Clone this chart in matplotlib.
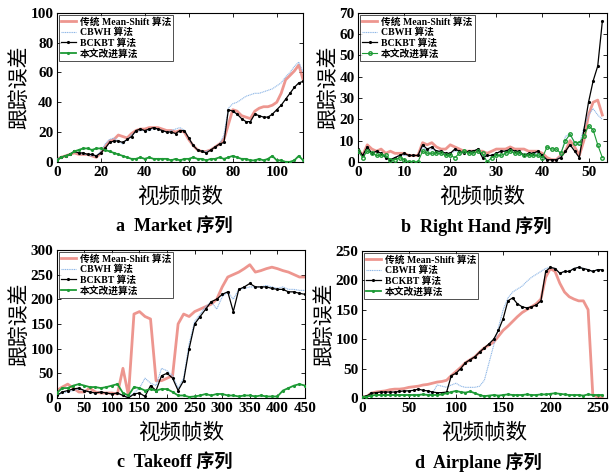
import numpy as np
import matplotlib.pyplot as plt

plt.rcParams['font.family'] = ['Liberation Serif', 'Noto Sans CJK SC']
plt.rcParams['font.weight'] = 'bold'

labels = ['传统 Mean-Shift 算法', 'CBWH 算法', 'BCKBT 算法', '本文改进算法']

# a: Market
market_x = list(range(0, 113, 2))
market_ms = [2, 3, 4, 5, 6, 5, 5, 5, 4, 3, 6, 10, 14, 15, 18, 17, 16, 19, 21, 22,
             22, 23, 23, 23, 22, 21, 21, 20, 21, 20, 15, 11, 8, 7, 7, 8, 10, 12, 15, 25,
             35, 34, 31, 30, 29, 34, 36, 37, 37, 38, 40, 46, 55, 58, 61, 65, 55]
market_cbwh = [2, 3, 4, 5, 7, 6, 5, 5, 4, 4, 7, 12, 15, 16, 14, 12, 15, 18, 20, 21,
               21, 21, 22, 22, 21, 20, 21, 22, 23, 21, 16, 11, 8, 7, 7, 8, 10, 12, 18, 36,
               39, 40, 42, 44, 45, 46, 46, 47, 48, 49, 51, 53, 57, 60, 64, 67, 60]
market_bckbt = [1, 3, 4, 5, 7, 6, 6, 5, 5, 4, 6, 9, 13, 14, 14, 13, 15, 17, 21, 22,
                21, 22, 23, 22, 21, 20, 20, 19, 21, 21, 16, 11, 8, 7, 6, 8, 10, 12, 13, 35,
                34, 32, 29, 27, 27, 32, 31, 30, 30, 32, 35, 38, 42, 46, 50, 53, 54]
market_ours = [1, 3, 4, 5, 7, 8, 9, 9, 8, 9, 9, 8, 7, 6, 5, 4, 3, 2, 2, 3,
               2, 3, 2, 2, 2, 2, 1, 2, 1, 2, 2, 3, 2, 2, 1, 2, 2, 3, 2, 3,
               4, 3, 2, 2, 1, 1, 2, 1, 2, 4, 1, 1, 0, 0, 1, 4, 1]

# b: Right Hand
hand_x = list(range(0, 54))
hand_ms = [6, 3, 8, 6, 5, 6, 4, 5, 4, 4, 4, 3, 3, 3, 9, 8, 9, 7, 6, 6,
           8, 7, 6, 5, 5, 5, 5, 5, 4, 5, 6, 6, 6, 7, 6, 6, 6, 5, 5, 5,
           4, 2, 1, 1, 3, 5, 10, 7, 3, 10, 22, 28, 29, 22]
hand_cbwh = [5, 3, 6, 4, 5, 4, 2, 1, 2, 3, 3, 3, 3, 3, 7, 5, 6, 5, 5, 4,
             4, 5, 5, 4, 5, 5, 6, 2, 3, 3, 4, 5, 5, 6, 5, 4, 3, 4, 4, 4,
             2, 1, 1, 1, 3, 12, 13, 9, 8, 16, 22, 25, 22, 20]
hand_bckbt = [6, 3, 7, 4, 5, 4, 2, 1, 2, 3, 4, 3, 3, 3, 8, 6, 7, 5, 5, 4,
              4, 6, 5, 4, 5, 5, 6, 2, 3, 3, 4, 5, 5, 6, 5, 5, 3, 4, 4, 5,
              3, 1, 1, 1, 2, 5, 8, 5, 2, 15, 28, 38, 45, 66]
hand_ours = [5, 2, 5, 4, 3, 3, 3, 1, 1, 2, 1, 0, 0, 0, 5, 4, 4, 4, 4, 3,
             3, 2, 4, 5, 4, 4, 5, 4, 0, 2, 3, 3, 4, 5, 4, 4, 3, 3, 3, 3,
             2, 7, 6, 6, 4, 10, 13, 9, 9, 12, 17, 15, 8, 2]

# c: Takeoff
takeoff_x = list(range(0, 451, 10))
takeoff_ms = [15, 22, 28, 20, 12, 12, 20, 12, 10, 10, 10, 8, 60, 5, 170, 175, 165, 160, 35, 35,
              40, 45, 150, 170, 165, 175, 180, 185, 190, 200, 225, 245, 250, 255, 262, 270, 255, 258, 262, 265,
              262, 258, 255, 250, 245, 245]
takeoff_cbwh = [5, 10, 12, 15, 18, 15, 12, 10, 12, 10, 8, 10, 5, 2, 10, 20, 40, 30, 25, 60,
                55, 45, 20, 40, 110, 155, 170, 185, 195, 180, 205, 215, 200, 220, 222, 225, 225, 225, 228, 225,
                222, 225, 220, 220, 218, 218]
takeoff_bckbt = [5, 12, 15, 18, 20, 15, 12, 10, 12, 10, 8, 10, 5, 0, 8, 10, 3, 25, 15, 45,
                 50, 40, 15, 35, 100, 150, 165, 180, 195, 200, 210, 215, 175, 220, 225, 232, 225, 225, 225, 222,
                 220, 220, 215, 215, 212, 210]
takeoff_ours = [10, 20, 20, 25, 28, 25, 22, 22, 20, 22, 25, 28, 10, 5, 22, 20, 15, 18, 15, 18,
                18, 12, 5, 5, 2, 3, 5, 8, 5, 8, 8, 5, 5, 3, 5, 5, 3, 5, 3, 3,
                3, 15, 20, 25, 28, 25]

# d: Airplane
plane_x = list(range(0, 256, 5))
plane_ms = [2, 2, 8, 10, 11, 12, 14, 15, 15, 16, 18, 19, 20, 22, 23, 25, 27, 28, 30, 38,
            45, 52, 60, 65, 70, 78, 85, 90, 95, 105, 115, 122, 130, 138, 145, 150, 155, 160, 168, 205,
            220, 215, 195, 180, 172, 168, 165, 165, 150, 5, 2, 2]
plane_cbwh = [2, 2, 4, 5, 5, 5, 5, 5, 5, 5, 5, 6, 6, 6, 6, 8, 22, 20, 18, 22,
              25, 20, 18, 18, 18, 20, 30, 60, 90, 120, 150, 170, 180, 185, 190, 198, 205, 210, 215, 220,
              222, 220, 212, 215, 215, 220, 222, 220, 218, 215, 218, 218]
plane_bckbt = [2, 3, 8, 9, 10, 10, 10, 10, 11, 12, 12, 13, 15, 13, 12, 10, 9, 9, 10, 38,
               42, 50, 60, 65, 70, 78, 85, 92, 100, 115, 135, 165, 170, 160, 155, 153, 155, 158, 165, 215,
               222, 220, 212, 215, 215, 220, 222, 220, 218, 215, 218, 218]
plane_ours = [2, 2, 4, 5, 5, 5, 5, 5, 5, 5, 5, 5, 5, 6, 5, 5, 5, 6, 8, 10,
              12, 10, 9, 11, 8, 5, 3, 4, 5, 4, 5, 6, 5, 5, 5, 6, 5, 5, 6, 6,
              7, 8, 7, 6, 5, 5, 5, 4, 6, 5, 5, 5]

RED = '#e8736a'
BLUE = '#8db6e6'
GREEN = '#1d9a35'

fig = plt.figure(figsize=(6.1, 4.76), dpi=100)

panels = [
    ([0.093, 0.660, 0.404, 0.313], market_x, market_ms, market_cbwh, market_bckbt, market_ours,
     (0, 112), (0, 100), np.arange(0, 101, 20), np.arange(0, 101, 20), 'a  Market 序列', False),
    ([0.587, 0.660, 0.408, 0.313], hand_x, hand_ms, hand_cbwh, hand_bckbt, hand_ours,
     (0, 54), (0, 70), np.arange(0, 51, 10), np.arange(0, 71, 10), 'b  Right Hand 序列', True),
    ([0.093, 0.164, 0.407, 0.311], takeoff_x, takeoff_ms, takeoff_cbwh, takeoff_bckbt, takeoff_ours,
     (0, 450), (0, 300), np.arange(0, 451, 50), np.arange(0, 301, 50), 'c  Takeoff 序列', False),
    ([0.593, 0.164, 0.402, 0.309], plane_x, plane_ms, plane_cbwh, plane_bckbt, plane_ours,
     (0, 260), (0, 250), np.arange(0, 251, 50), np.arange(0, 251, 50), 'd  Airplane 序列', False),
]

for rect, x, ms, cbwh, bckbt, ours, xlim, ylim, xt, yt, caption, hollow in panels:
    ax = fig.add_axes(rect)
    ax.plot(x, ms, color=RED, lw=2.0, alpha=0.75, label=labels[0], zorder=2)
    ax.plot(x, cbwh, color=BLUE, lw=0.8, ls=(0, (1, 0.6)), label=labels[1], zorder=3)
    ax.plot(x, bckbt, color='black', lw=0.9, marker='.', ms=2.5, label=labels[2], zorder=4)
    if hollow:
        ax.plot(x, ours, color=GREEN, lw=0.8, marker='o', ms=2.5, mfc='none',
                label=labels[3], zorder=5)
    else:
        ax.plot(x, ours, color=GREEN, lw=1.3, marker='.', ms=2.5, label=labels[3], zorder=5)
    ax.set_xlim(*xlim)
    ax.set_ylim(*ylim)
    ax.set_xticks(xt)
    ax.set_yticks(yt)
    ax.tick_params(direction='in', top=True, right=True, length=3, width=0.6,
                   labelsize=11)
    ax.tick_params(axis='x', pad=3)
    ax.tick_params(axis='y', pad=2.5)
    for s in ax.spines.values():
        s.set_linewidth(0.8)
    ax.set_xlabel('视频帧数', fontsize=15.5, family='Noto Sans CJK SC', labelpad=5)
    ax.set_ylabel('跟踪误差', fontsize=15, family='Noto Sans CJK SC', labelpad=0)
    leg = ax.legend(loc='upper left', fontsize=7, frameon=True, fancybox=False,
                    edgecolor='black', borderpad=0.25, labelspacing=0.1,
                    handlelength=1.5, handletextpad=0.4, borderaxespad=0.2)
    leg.get_frame().set_linewidth(0.6)
    cx = rect[0] + rect[2] / 2
    fig.text(cx - 0.01, rect[1] - 0.135, caption, ha='center', va='center',
             fontsize=13, fontweight='bold')

fig.savefig('out.png', dpi=100)
